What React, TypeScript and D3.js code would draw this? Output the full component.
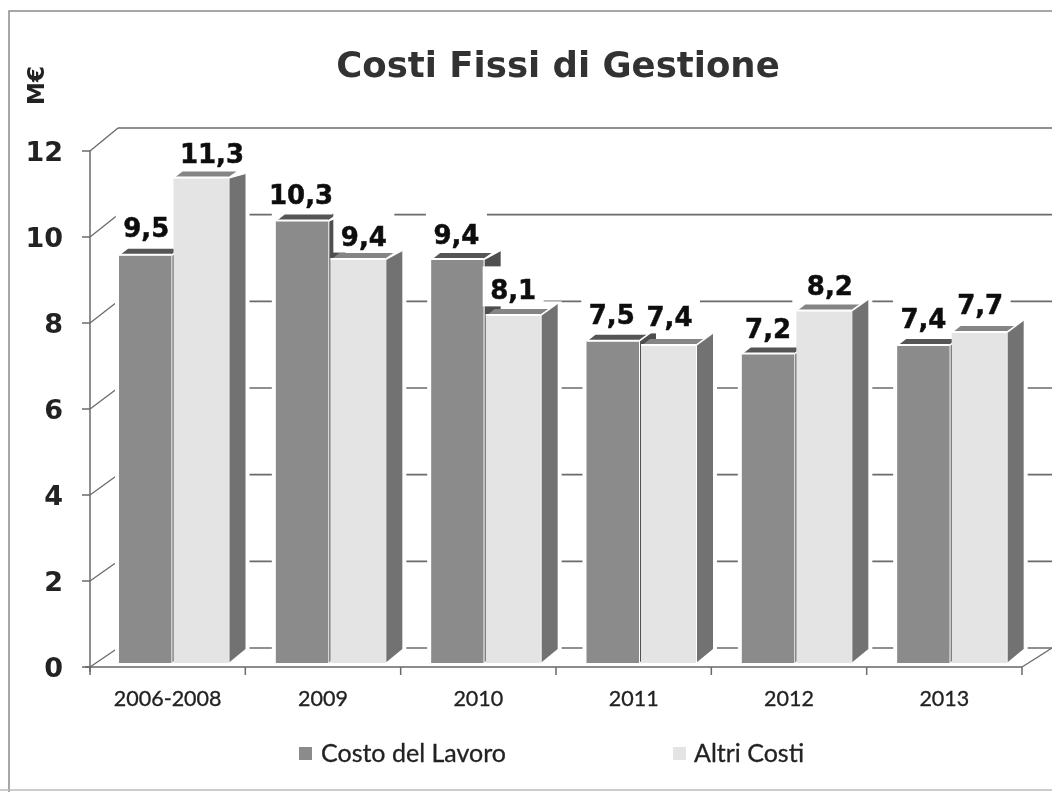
import React from "react";
import * as d3 from "d3";

const categories = ["2006-2008", "2009", "2010", "2011", "2012", "2013"];
const costoLavoro = [9.5, 10.3, 9.4, 7.5, 7.2, 7.4];
const altriCosti = [11.3, 9.4, 8.1, 7.4, 8.2, 7.7];
const seriesNames = ["Costo del Lavoro", "Altri Costi"];
const yTicks = [0, 2, 4, 6, 8, 10, 12];
const fmt = (v: number) => v.toFixed(1).replace(".", ",");

// layout only: hand nudges for the data labels [dx, dy] and the bar groups
const nudgeA = [[1, -2], [-1, -1], [-1, 0], [-1, -1], [0, 0], [0, -1]];
const nudgeB = [[11, 1], [6, 2], [0, 0], [1, -3], [6, 0], [1, -3]];
const groupNudge = [-1.5, 0, 0, 0, 0, 0];

const W = 1052, H = 792;
const x0 = d3.scaleBand<string>().domain(categories).range([90, 1022]);
const bwA = 52.5;
const bwB = 55;
const stepB = 54.5;
const inset = 30.5;
const y = d3.scaleLinear().domain([0, 12]).range([663, 148]);
const yAxis = d3.scaleLinear().domain([0, 12]).range([667, 151]);
const yBack = d3.scaleLinear().domain([0, 12]).range([648, 128]);
const depthX = 17;
const depthY = d3.scaleLinear().domain([0, 8, 12]).range([14, 12.5, 3]);

const poly = (p: number[][]) => p.map((q) => q.join(",")).join(" ");

function Bar({ x, bw, v, front, side, top }: { x: number; bw: number; v: number; front: string; side: string; top: string }) {
  const t = y(v), b = y(0), dT = depthY(v), dB = depthY(0);
  return (
    <g>
      <polygon points={poly([[x + bw, t], [x + bw + depthX, t - dT], [x + bw + depthX, b - dB], [x + bw, b]])} fill={side} />
      <polygon points={poly([[x + 2, t - 1], [x + 9, t - 6.5], [x + bw + 8, t - 6.5], [x + bw, t - 1]])} fill={top} />
      <rect x={x} y={t} width={bw} height={b - t} fill={front} />
      <line x1={x} x2={x + bw} y1={t - 0.5} y2={t - 0.5} stroke="#fff" strokeWidth={2} />
      <line x1={x + bw} x2={x + bw + depthX} y1={t} y2={t - dT} stroke="#fff" strokeWidth={1.5} />
      <line x1={x + bw + 0.5} x2={x + bw + 0.5} y1={t} y2={b} stroke="#fff" strokeWidth={1} />
    </g>
  );
}

function Label({ cx, cy, v }: { cx: number; cy: number; v: number }) {
  const text = fmt(v);
  const w = text.length > 3 ? 63 : 47;
  return (
    <g>
      <rect x={cx - w / 2 - 7} y={cy - 23} width={w + 14} height={40} fill="#fff" />
      <text x={cx} y={cy + 10} textAnchor="middle" fontFamily="'DejaVu Sans'" fontWeight={700} fontSize={26} fill="#111" stroke="#111" strokeWidth={0.5}>{text}</text>
    </g>
  );
}

export default function App() {
  const grid = "#6a6a6a";
  const gx = (c: string, i: number) => x0(c)! + inset + groupNudge[i];
  return (
    <svg width={W} height={H} viewBox={`0 0 ${W} ${H}`} style={{ position: "fixed", left: 0, top: 0, background: "#fff" }}>
      <defs>
        <filter id="scan" x="0" y="0" width="100%" height="100%">
          <feGaussianBlur stdDeviation="0.65" />
        </filter>
      </defs>
      <g filter="url(#scan)">
        <rect width={W} height={H} fill="#fff" />
        <path d={`M${W},11H9V${H}`} fill="none" stroke="#8a8a8a" strokeWidth={1.5} />
        <line x1={0} x2={W} y1={790} y2={790} stroke="#bbb" strokeWidth={1.5} />

        <text x={558} y={77} textAnchor="middle" fontFamily="'DejaVu Sans'" fontWeight={700} fontSize={35.5} fill="#333">Costi Fissi di Gestione</text>
        <text transform="translate(44,105) rotate(-90)" x={0} y={0} fontFamily="'DejaVu Sans'" fontWeight={700} fontSize={23} fill="#222">M€</text>

        {/* walls */}
        {yTicks.map((t) => (
          <g key={t}>
            <line x1={90} y1={yAxis(t)} x2={118} y2={yBack(t)} stroke={grid} strokeWidth={1.3} />
            <line x1={118} x2={W} y1={yBack(t)} y2={yBack(t)} stroke={grid} strokeWidth={1.6} />
            <line x1={82} x2={90} y1={yAxis(t)} y2={yAxis(t)} stroke={grid} strokeWidth={1.5} />
            <text x={63} y={yAxis(t) + 10} textAnchor="end" fontFamily="'DejaVu Sans'" fontWeight={700} fontSize={27} fill="#222">{t}</text>
          </g>
        ))}
        <line x1={90} x2={90} y1={151} y2={672} stroke={grid} strokeWidth={1.5} />
        <line x1={85} x2={1022} y1={667} y2={667} stroke="#666" strokeWidth={1.6} />
        <line x1={1022} y1={667} x2={1052} y2={648} stroke={grid} strokeWidth={1.3} />
        {[...categories.map((c) => x0(c)!), 1022].map((t) => (
          <line key={t} x1={t} x2={t} y1={667} y2={675} stroke={grid} strokeWidth={1.5} />
        ))}

        {/* white halo the bars leave on the back wall */}
        {categories.map((c, i) => {
          const x = gx(c, i);
          const xb = x + stepB;
          return (
            <g key={c} fill="#fff">
              <rect x={x - 4} y={y(costoLavoro[i]) - 10} width={bwA + 8} height={y(0) - y(costoLavoro[i]) + 10} />
              <rect x={xb - 4} y={y(altriCosti[i]) - 14} width={bwB + depthX + 8} height={y(0) - y(altriCosti[i]) + 14} />
            </g>
          );
        })}

        {/* first series, with its labels */}
        {categories.map((c, i) => {
          const x = gx(c, i);
          return (
            <g key={c}>
              <Bar x={x} bw={bwA} v={costoLavoro[i]} front="#8b8b8b" side="#4f4f4f" top="#555" />
              <Label cx={x + bwA / 2 + nudgeA[i][0]} cy={y(costoLavoro[i]) - 26 + nudgeA[i][1]} v={costoLavoro[i]} />
            </g>
          );
        })}

        {/* second series, with its labels */}
        {categories.map((c, i) => {
          const x = gx(c, i);
          return <Bar key={c} x={x + stepB} bw={bwB} v={altriCosti[i]} front="#e4e4e4" side="#727272" top="#858585" />;
        })}
        {categories.map((c, i) => {
          const x = gx(c, i);
          return <Label key={c} cx={x + stepB + bwB / 2 + nudgeB[i][0]} cy={y(altriCosti[i]) - 26 + nudgeB[i][1]} v={altriCosti[i]} />;
        })}

        {/* category labels */}
        {categories.map((c) => (
          <text key={c} x={x0(c)! + x0.bandwidth() / 2} y={706} textAnchor="middle" fontFamily="Lato" fontSize={21.5} fill="#222" stroke="#222" strokeWidth={0.3}>{c}</text>
        ))}

        {/* legend */}
        <rect x={299} y={747} width={13} height={13} fill="#8b8b8b" />
        <text x={321} y={762} fontFamily="Lato" fontSize={25} fill="#222" stroke="#222" strokeWidth={0.3}>{seriesNames[0]}</text>
        <rect x={673} y={747} width={13} height={13} fill="#e4e4e4" />
        <text x={694} y={762} fontFamily="Lato" fontSize={25} fill="#222" stroke="#222" strokeWidth={0.3}>{seriesNames[1]}</text>
      </g>
    </svg>
  );
}
